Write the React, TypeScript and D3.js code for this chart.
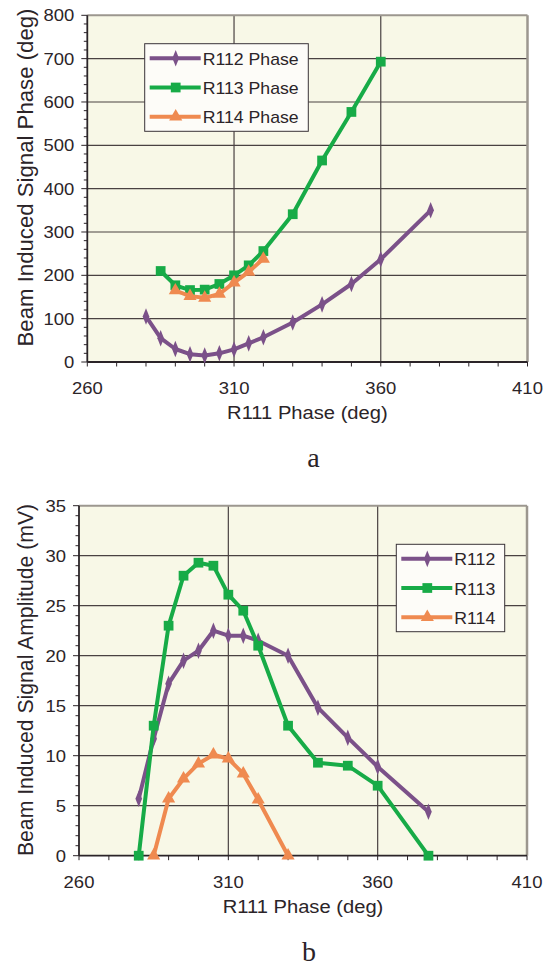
import { scaleLinear, line, range, symbol, symbolDiamond, symbolSquare, symbolTriangle } from "d3";

const width = 552;
const height = 966;

// R111 phase (deg) for each measurement
const phaseR112 = [280, 285, 290, 295, 300, 305, 310, 315, 320, 330, 340, 350, 360, 377];
const phaseR113 = [285, 290, 295, 300, 305, 310, 315, 320, 330, 340, 350, 360];
const phaseR114 = [290, 295, 300, 305, 310, 315, 320];

// (a) induced signal phase, deg
const sigPhaseR112 = [105, 55, 30, 18, 15, 20, 29, 43, 57, 91, 133, 180, 237, 350];
const sigPhaseR113 = [210, 177, 166, 167, 180, 200, 223, 256, 341, 465, 577, 693];
const sigPhaseR114 = [165, 152, 148, 157, 183, 208, 238];

// (b) induced signal amplitude, mV
const ampPhaseR112 = [280, 285, 290, 295, 300, 305, 310, 315, 320, 330, 340, 350, 360, 377];
const ampPhaseR113 = [280, 285, 290, 295, 300, 305, 310, 315, 320, 330, 340, 350, 360, 377];
const ampPhaseR114 = [285, 290, 295, 300, 305, 310, 315, 320, 330];
const ampR112 = [5.7, 11.7, 17.2, 19.5, 20.5, 22.5, 22, 22, 21.5, 20, 14.8, 11.8, 8.9, 4.4];
const ampR113 = [0, 13, 23, 28, 29.3, 29, 26.1, 24.5, 21, 13, 9.3, 9, 7, 0];
const ampR114 = [0, 5.7, 7.7, 9.2, 10.1, 9.7, 8.2, 5.6, 0];

const xTicks = [260, 310, 360, 410];
const legendTop = ["R112 Phase", "R113 Phase", "R114 Phase"];
const legendBottom = ["R112", "R113", "R114"];

const colors = ["#7b5189", "#17ab47", "#ef8a50"];
const shapes = [symbolDiamond, symbolSquare, symbolTriangle];
const sizes = [60, 95, 75];

const font = "'Liberation Sans', Arial, sans-serif";
const ink = "#2b2428";

function Marker({ i, x, y }) {
  const d = symbol(shapes[i], sizes[i])();
  const t = i === 0 ? `translate(${x},${y}) scale(0.8,1.15)` : `translate(${x},${y})`;
  return <path d={d} transform={t} fill={colors[i]} />;
}

// the source figure's lettering is a little wider than Arial, so stretch it sideways
function Txt({ x, y, size, anchor = "start", sx = 1.1, children }) {
  return (
    <text transform={`translate(${x},${y}) scale(${sx},1)`} textAnchor={anchor} fontSize={size} fontFamily={font} fill={ink}>
      {children}
    </text>
  );
}

function Chart({ box, yMax, yStep, yMinor, series, legend, legendBox, yTitle, label, labelY }) {
  const x = scaleLinear().domain([260, 410]).range([box.left, box.right]);
  const y = scaleLinear().domain([0, yMax]).range([box.bottom, box.top]);
  const majors = range(0, yMax + yStep / 2, yStep);
  const minors = range(0, yMax + yMinor / 2, yMinor);
  const xMinors = range(260, 411, 10);
  const gen = line().x((d) => x(d[0])).y((d) => y(d[1]));
  const rowGap = (legendBox.bottom - legendBox.top) / 3;
  const lw = box.right - box.left;

  return (
    <g>
      <rect x={box.left} y={box.top} width={lw} height={box.bottom - box.top} fill="#f8f8e7" />
      {majors.slice(1, -1).map((v) => (
        <line key={v} x1={box.left} x2={box.right} y1={y(v)} y2={y(v)} stroke="#4a4242" strokeWidth={1.2} />
      ))}
      {[310, 360].map((v) => (
        <line key={v} x1={x(v)} x2={x(v)} y1={box.top} y2={box.bottom} stroke="#4a4242" strokeWidth={1.2} />
      ))}
      <line x1={box.left} x2={box.right} y1={box.top} y2={box.top} stroke="#9c978f" strokeWidth={2} />
      <line x1={box.right} x2={box.right} y1={box.top} y2={box.bottom} stroke="#9c978f" strokeWidth={2.5} />
      {/* axes */}
      <line x1={box.left} x2={box.left} y1={box.top} y2={box.bottom} stroke={ink} strokeWidth={1.8} />
      <line x1={box.left} x2={box.right} y1={box.bottom} y2={box.bottom} stroke={ink} strokeWidth={1.8} />
      {minors.map((v) => (
        <line key={v} x1={box.left - (v % yStep === 0 ? 6 : 3.5)} x2={box.left} y1={y(v)} y2={y(v)} stroke={ink} strokeWidth={1} />
      ))}
      {xMinors.map((v) => (
        <line key={v} x1={x(v)} x2={x(v)} y1={box.bottom} y2={box.bottom + 4.5} stroke={ink} strokeWidth={1} />
      ))}
      {majors.map((v) => (
        <Txt key={v} x={box.left - 13} y={y(v) + 6} size={16.5} anchor="end" sx={1.12}>
          {v}
        </Txt>
      ))}
      {xTicks.map((v) => (
        <Txt key={v} x={x(v)} y={box.bottom + 32} size={16.5} anchor="middle" sx={1.12}>
          {v}
        </Txt>
      ))}
      <Txt x={(box.left + box.right) / 2} y={box.bottom + 57} size={18.5} anchor="middle" sx={1.09}>
        R111 Phase (deg)
      </Txt>
      <text
        transform={`translate(33,${yTitle.cy}) rotate(-90)`}
        textAnchor="middle"
        fontSize={yTitle.size}
        fontFamily={font}
        fill={ink}
      >
        {yTitle.text}
      </text>

      {series.map((s, i) => (
        <g key={i}>
          <path d={gen(s)} fill="none" stroke={colors[i]} strokeWidth={4} strokeLinejoin="round" />
          {s.map((d, j) => (
            <Marker key={j} i={i} x={x(d[0])} y={y(d[1])} />
          ))}
        </g>
      ))}

      <rect
        x={legendBox.left}
        y={legendBox.top}
        width={legendBox.right - legendBox.left}
        height={legendBox.bottom - legendBox.top}
        fill="#fdfcf8"
        stroke="#3a3438"
        strokeWidth={1}
      />
      {legend.map((name, i) => {
        const ry = legendBox.top + rowGap * (i + 0.5);
        const lx = legendBox.left + 5;
        return (
          <g key={name}>
            <line x1={lx} x2={lx + 51} y1={ry} y2={ry} stroke={colors[i]} strokeWidth={4} />
            <Marker i={i} x={lx + 26} y={ry} />
            <Txt x={lx + 53} y={ry + 6.5} size={17} sx={1.04}>
              {name}
            </Txt>
          </g>
        );
      })}

      <text x={(box.left + box.right) / 2 + 6} y={labelY} textAnchor="middle" fontSize={28} fontFamily="'Liberation Serif', 'Times New Roman', serif" fill={ink}>
        {label}
      </text>
    </g>
  );
}

export default function App() {
  const zip = (xs, ys) => xs.map((v, i) => [v, ys[i]]);
  const top = [zip(phaseR112, sigPhaseR112), zip(phaseR113, sigPhaseR113), zip(phaseR114, sigPhaseR114)];
  const bottom = [zip(ampPhaseR112, ampR112), zip(ampPhaseR113, ampR113), zip(ampPhaseR114, ampR114)];

  return (
    <svg width={width} height={height} style={{ position: "absolute", left: 0, top: 0, background: "#fff" }}>
      <Chart
        box={{ left: 87.3, right: 527.5, top: 15.3, bottom: 362 }}
        yMax={800}
        yStep={100}
        yMinor={20}
        series={top}
        legend={legendTop}
        legendBox={{ left: 144.7, right: 308.3, top: 43.7, bottom: 131.3 }}
        yTitle={{ text: "Beam Induced Signal Phase (deg)", cy: 177.5, size: 22.2 }}
        label="a"
        labelY={467}
      />
      <Chart
        box={{ left: 79, right: 527, top: 505.7, bottom: 855.7 }}
        yMax={35}
        yStep={5}
        yMinor={1}
        series={bottom}
        legend={legendBottom}
        legendBox={{ left: 396.3, right: 504.7, top: 544.3, bottom: 631.7 }}
        yTitle={{ text: "Beam Induced Signal Amplitude (mV)", cy: 680, size: 21.2 }}
        label="b"
        labelY={961}
      />
    </svg>
  );
}
